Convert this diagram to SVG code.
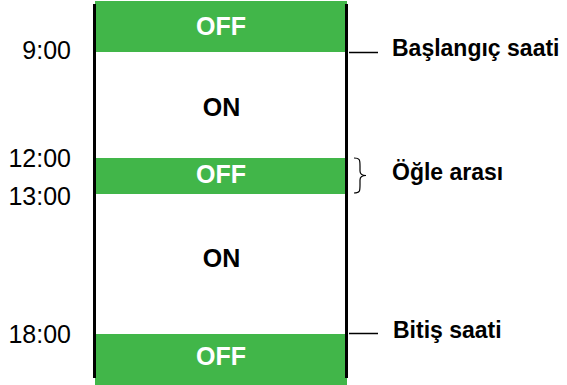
<svg xmlns="http://www.w3.org/2000/svg" width="567" height="385" viewBox="0 0 567 385">
<style>
.off{fill:#41b649}
.lbl{font-family:"Liberation Sans",Arial,sans-serif;font-weight:bold;font-size:25px}
.side{font-size:23px}
.t{font-family:"Liberation Sans",Arial,sans-serif;font-size:25px;fill:#000}
.w{fill:#fff}
.ln{stroke:#000;fill:none}
</style>
<g id="band-off-1"><rect class="off" x="95" y="1" width="252" height="51"/><text class="lbl w" x="221" y="35" text-anchor="middle">OFF</text></g>
<g id="band-on-1"><text class="lbl" x="221.5" y="116" text-anchor="middle">ON</text></g>
<g id="band-off-2"><rect class="off" x="95" y="158" width="252" height="36"/><text class="lbl w" x="221" y="183" text-anchor="middle">OFF</text></g>
<g id="band-on-2"><text class="lbl" x="221.5" y="267" text-anchor="middle">ON</text></g>
<g id="band-off-3"><rect class="off" x="95" y="334" width="252" height="51"/><text class="lbl w" x="221" y="365" text-anchor="middle">OFF</text></g>
<g id="frame">
<line class="ln" x1="94.5" y1="4" x2="94.5" y2="378" stroke-width="3"/>
<line class="ln" x1="346.5" y1="4" x2="346.5" y2="378" stroke-width="3"/>
</g>
<g id="times">
<text class="t" x="71" y="59" text-anchor="end">9:00</text>
<text class="t" x="71" y="167" text-anchor="end">12:00</text>
<text class="t" x="71" y="205" text-anchor="end">13:00</text>
<text class="t" x="71" y="343" text-anchor="end">18:00</text>
</g>
<g id="connectors">
<line class="ln" x1="349" y1="52.5" x2="378" y2="52.5" stroke-width="1.5"/>
<line class="ln" x1="349" y1="333.5" x2="378" y2="333.5" stroke-width="1.5"/>
<path class="ln" stroke-width="1.2" d="M354,158 C360,158 360,160 360,166 L360,171 C360,174 362,175.5 366,175.5 C362,175.5 360,177 360,180 L360,185 C360,191 360,193 354,193"/>
</g>
<g id="labels">
<text class="lbl side" x="392" y="56">Başlangıç saati</text>
<text class="lbl side" x="392" y="180">Öğle arası</text>
<text class="lbl side" x="393" y="338">Bitiş saati</text>
</g>
</svg>
